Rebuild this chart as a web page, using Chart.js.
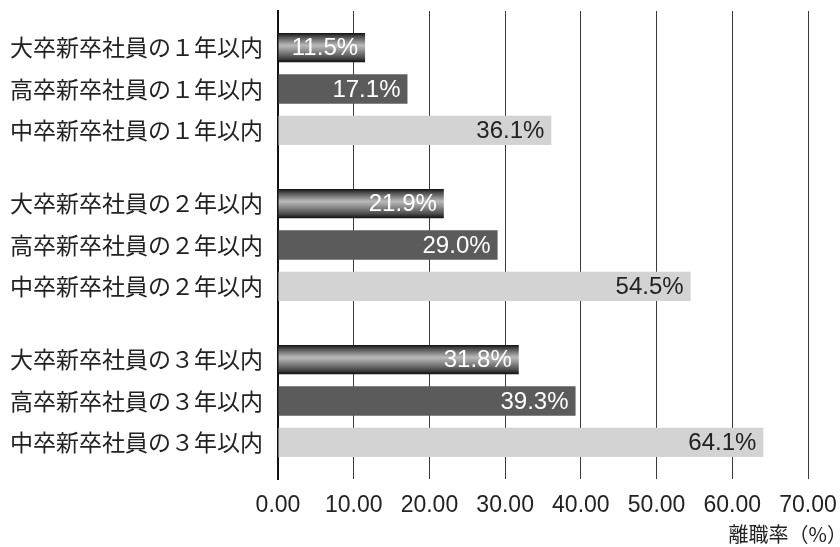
<!DOCTYPE html>
<html>
<head>
<meta charset="utf-8">
<script src="https://cdn.jsdelivr.net/npm/chart.js@4.4.1/dist/chart.umd.min.js"></script>
<style>
  html, body { margin: 0; padding: 0; background: #fff; }
  #wrap { width: 840px; height: 547px; }
</style>
</head>
<body>
<div id="wrap"><canvas id="chart" width="840" height="547"></canvas></div>
<script>
// 年数（全角）と学歴
var years = ['１', '２', '３'];
var schools = ['大卒', '高卒', '中卒'];

// 離職率（%）
var daisotsu = [11.5, 21.9, 31.8];
var kousotsu = [17.1, 29.0, 39.3];
var chuusotsu = [36.1, 54.5, 64.1];

var xTicks = [0, 10, 20, 30, 40, 50, 60, 70];
var axisTitle = '離職率（%）';

// 各グループのラベル（3行）
var labels = years.map(function(y) {
    return schools.map(function(s) { return s + '新卒社員の' + y + '年以内'; });
});

// 円柱っぽいグラデーション
function metalFill(ctx) {
    var el = ctx.element;
    if (!el || !el.height) return '#666';
    var c = ctx.chart.ctx;
    var top = el.y - el.height / 2;
    var g = c.createLinearGradient(0, top, 0, top + el.height);
    g.addColorStop(0, '#111');
    g.addColorStop(0.12, '#4a4a4a');
    g.addColorStop(0.42, '#bababa');
    g.addColorStop(0.55, '#9c9c9c');
    g.addColorStop(0.85, '#4a4a4a');
    g.addColorStop(1, '#0e0e0e');
    return g;
}

var valueLabels = {
    id: 'valueLabels',
    afterDatasetsDraw: function(chart) {
        var c = chart.ctx;
        c.save();
        c.font = '24px "Liberation Sans", Arial, sans-serif';
        c.textAlign = 'right';
        c.textBaseline = 'middle';
        chart.data.datasets.forEach(function(ds, i) {
            var meta = chart.getDatasetMeta(i);
            c.fillStyle = i < 2 ? '#fff' : '#222';
            meta.data.forEach(function(bar, j) {
                c.fillText(ds.data[j].toFixed(1) + '%', bar.x - 7, bar.y + 1);
            });
        });
        // 軸タイトル
        c.font = '20px "Noto Sans CJK JP", sans-serif';
        c.fillStyle = '#222';
        c.fillText(axisTitle, 847, 534);
        c.restore();
    }
};

var chart = new Chart(document.getElementById('chart').getContext('2d'), {
    type: 'bar',
    data: {
        labels: labels,
        datasets: [
            { label: '大卒', data: daisotsu, backgroundColor: metalFill },
            { label: '高卒', data: kousotsu, backgroundColor: '#5b5b5b' },
            { label: '中卒', data: chuusotsu, backgroundColor: '#d3d3d3' }
        ]
    },
    options: {
        indexAxis: 'y',
        responsive: false,
        animation: false,
        datasets: {
            bar: { categoryPercentage: 0.795, barPercentage: 0.71 }
        },
        layout: { padding: { top: 11, right: 32, left: 0, bottom: 0 } },
        plugins: {
            legend: { display: false },
            tooltip: { enabled: false }
        },
        scales: {
            x: {
                min: 0,
                max: 70,
                afterBuildTicks: function(scale) {
                    scale.ticks = xTicks.map(function(v) { return { value: v }; });
                },
                afterFit: function(scale) {
                    scale.height = 68;
                    scale.paddingLeft = 0;
                    scale.paddingRight = 0;
                },
                grid: { color: '#3a3a3a', lineWidth: 1, drawTicks: false },
                border: { display: false },
                ticks: {
                    padding: 13,
                    color: '#222',
                    maxRotation: 0,
                    font: { family: '"Liberation Sans", Arial, sans-serif', size: 23 },
                    callback: function(v) { return Number(v).toFixed(2); }
                }
            },
            y: {
                afterFit: function(scale) {
                    scale.width = 278;
                    scale.paddingTop = 0;
                    scale.paddingBottom = 0;
                },
                grid: { display: false, drawTicks: false },
                border: { display: true, color: '#111', width: 2 },
                ticks: {
                    padding: 15,
                    color: '#222',
                    font: { family: '"Noto Sans CJK JP", sans-serif', size: 23, lineHeight: '41.5px' }
                }
            }
        }
    },
    plugins: [valueLabels]
});
// グラデーションは要素の位置が決まってから
chart.update();
</script>
</body>
</html>
